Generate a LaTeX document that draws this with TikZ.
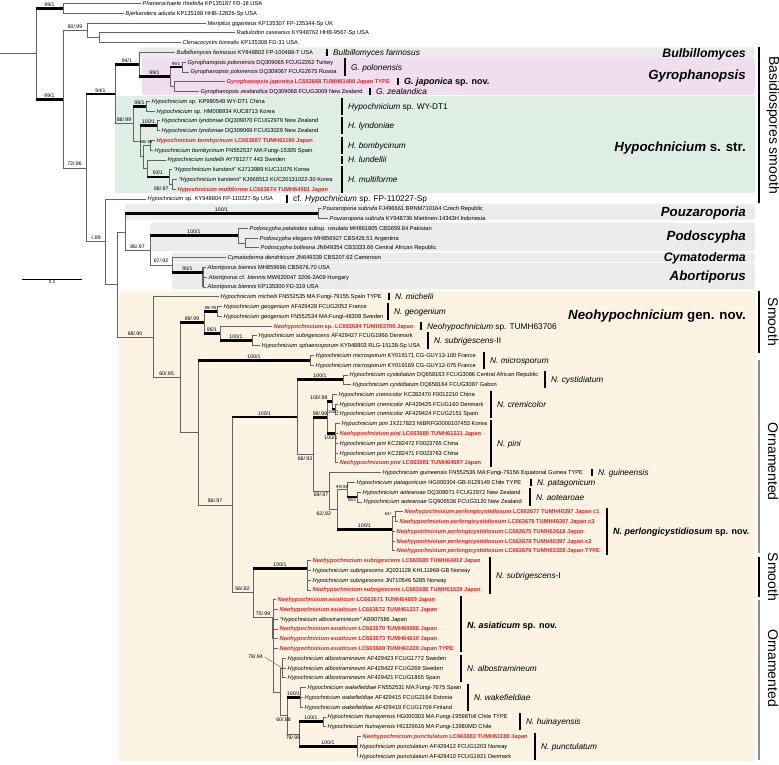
\documentclass[tikz,border=0pt]{standalone}
\usepackage{fontspec}
\setmainfont{Liberation Sans}
\usetikzlibrary{calc}
\definecolor{bandgrey}{RGB}{235,235,235}
\definecolor{bandpink}{RGB}{240,221,238}
\definecolor{bandgreen}{RGB}{222,238,229}
\definecolor{bandcream}{RGB}{253,243,227}
\definecolor{newred}{RGB}{232,30,37}
\definecolor{brgrey}{RGB}{100,100,100}
\definecolor{orngrey}{RGB}{140,140,140}

\begin{document}
\begin{tikzpicture}[
    x=1pt, y=-9.773pt,
    br/.style={draw=brgrey, line width=0.7pt},
    bb/.style={draw=black, line width=2.8pt},
    tx/.style={anchor=west, inner xsep=1.5pt, inner ysep=0pt,
               text height=4pt, text depth=0pt, font=\fontsize{5.7}{6}\selectfont},
    newseq/.style={tx, text=newred, font=\fontsize{5.7}{6}\selectfont\bfseries},
    supp/.style={inner sep=1.8pt, font=\fontsize{5.2}{5.5}\selectfont},
    suppsm/.style={inner sep=1.2pt, font=\fontsize{4.2}{4.5}\selectfont},
    band/.style={rounded corners=2.5pt},
    sbar/.style={line width=2pt},
    slab/.style={anchor=west, inner sep=0pt, text height=6pt, text depth=0pt,
                 font=\fontsize{8.3}{9}\selectfont\itshape},
    sbold/.style={anchor=west, inner sep=0pt, text height=6.5pt, text depth=0pt,
                  font=\fontsize{9}{10}\selectfont\bfseries},
    clade/.style={anchor=east, inner sep=0pt, text height=9.5pt, text depth=0pt,
                  font=\fontsize{13.3}{14}\selectfont\bfseries\itshape},
    tbar/.style={line width=2.2pt},
    tlab/.style={rotate=-90, inner sep=0pt, font=\fontsize{14}{15}\selectfont}
]
\useasboundingbox (0,0.6419) rectangle (779,78.818);

\fill[bandgrey,band]  (138,5.5)   rectangle (755,6.47);
\fill[bandpink,band]  (142,6.52)  rectangle (755,10.38);
\fill[bandgreen,band] (115,10.48) rectangle (755,20.4);
\fill[bandgrey,band]  (125,21.5)  rectangle (755,23.15);
\fill[bandgrey,band]  (150,23.45) rectangle (755,26.35);
\fill[bandgrey,band]  (172,26.5)  rectangle (755,27.45);
\fill[bandgrey,band]  (172,27.55) rectangle (755,30.25);
\fill[bandcream,band] (119,30.45) rectangle (755,78.55);

\coordinate (rt)   at (0,6.14);
\coordinate (r0)   at (36,6.14);
\coordinate (nPB)  at (63,1.5);
\coordinate (nA)   at (63,10.79);
\coordinate (nM)   at (87,3.75);
\coordinate (nRC)  at (99,4.5);
\coordinate (nB)   at (86,17.82);
\coordinate (n115) at (115,10.27);
\coordinate (nBG)  at (139,7.25);
\coordinate (nGy)  at (170,8.5);
\coordinate (nGpo) at (182,7.5);
\coordinate (nGjz) at (174,9.5);
\coordinate (nH0)  at (133,13.30);
\coordinate (nWY)  at (146,11.5);
\coordinate (nH1)  at (140,15.09);
\coordinate (nLy)  at (157,13.5);
\coordinate (nH2)  at (143,16.69);
\coordinate (nBo)  at (150,15.5);
\coordinate (nH3)  at (147,17.875);
\coordinate (nKa)  at (169,18.75);
\coordinate (nKm)  at (172,19.5);
\coordinate (n105) at (105,25.375);
\coordinate (n117) at (117,29.75);
\coordinate (n125) at (125,24.375);
\coordinate (nPz)  at (318,22.5);
\coordinate (n150) at (150,26.25);
\coordinate (nPd)  at (238,24.75);
\coordinate (nPe)  at (245,25.5);
\coordinate (n172) at (172,27.75);
\coordinate (nAb)  at (203,28.5);
\coordinate (n153) at (153,35.13);
\coordinate (n180) at (180,39.27);
\coordinate (n204) at (204,33.625);
\coordinate (nGe)  at (217,32.5);
\coordinate (n220) at (220,34.75);
\coordinate (nSu2) at (252,35.5);
\coordinate (n198) at (198,44.9);
\coordinate (nMi)  at (310,37.5);
\coordinate (n232) at (232,52.31);
\coordinate (n297) at (297,43.32);
\coordinate (nCy)  at (343,39.5);
\coordinate (n313) at (313,47.13);
\coordinate (n327) at (327,43.375);
\coordinate (nCr)  at (332,41.75);
\coordinate (nCr2) at (335,42.5);
\coordinate (nPi)  at (335,45);
\coordinate (n329) at (329,50.89);
\coordinate (n337) at (337,52.78);
\coordinate (nQ)   at (347,50.75);
\coordinate (nAo)  at (357,51.5);
\coordinate (nPl)  at (392,54.8);
\coordinate (nPl2) at (395,53.5);
\coordinate (n253) at (253,61.3);
\coordinate (nSu1) at (307,58.8);
\coordinate (n273) at (273,63.8);
\coordinate (nS)   at (280,71.44);
\coordinate (nAl)  at (282,69);
\coordinate (nT)   at (287,73.875);
\coordinate (nWa)  at (300,72);
\coordinate (nU)   at (299,75.75);
\coordinate (nHu)  at (323,74.5);
\coordinate (nPu)  at (357,77);

\draw[br] (rt) -- (r0);
\foreach \pa/\ch in {r0/nPB, r0/nA, nA/nM, nA/nB, nM/nRC, nB/n115, nB/n105,
    n115/nBG, n115/nH0, nBG/nGy, nGy/nGpo, nGy/nGjz, nH0/nWY, nH0/nH1,
    nH1/nLy, nH1/nH2, nH2/nBo, nH2/nH3, nH3/nKa, nKa/nKm, n105/n117,
    n117/n125, n117/n153, n125/nPz, n125/n150, n150/nPd, n150/n172,
    nPd/nPe, n172/nAb, n153/n180, n180/n204, n180/n198, n204/nGe,
    n204/n220, n220/nSu2, n198/nMi, n198/n232, n232/n297, n232/n253,
    n297/nCy, n297/n313, n313/n327, n313/n329, n327/nCr, n327/nPi,
    nCr/nCr2, n329/n337, n337/nQ, n337/nPl, nQ/nAo, nPl/nPl2, n253/nSu1,
    n253/n273, n273/nS, nS/nAl, nS/nT, nT/nWa, nT/nU, nU/nHu, nU/nPu}
  \draw[br] (\pa) |- (\ch);

\foreach \i/\x/\pa/\sty/\gn/\ac in {
    1/141/nPB/tx/Phanerochaete rhodella/KP135187 FD-18 USA,
    2/124/nPB/tx/Bjerkandera adusta/KP135198 HHB-12826-Sp USA,
    3/206/nM/tx/Meripilus giganteus/KP135307 FP-135344-Sp UK,
    4/235/nRC/tx/Radulodon casearius/KY948762 HHB-9567-Sp USA,
    5/181/nRC/tx/Climacocystis borealis/KP135308 FD-31 USA,
    6/175/nBG/tx/Bulbillomyces farinosus/KY948802 FP-100488-T USA,
    7/186/nGpo/tx/Gyrophanopsis polonensis/DQ309065 FCUG2262 Turkey,
    8/189/nGpo/tx/Gyrophanopsis polonensis/DQ309067 FCUG2675 Russia,
    9/225/nGjz/newseq/Gyrophanopsis japonica/LC663668 TUMH61400 Japan TYPE,
    10/199/nGjz/tx/Gyrophanopsis zealandica/DQ309068 FCUG3009 New Zealand,
    11/150/nWY/tx/Hypochnicium/sp. KP980549 WY-DT1 China,
    12/155/nWY/tx/Hypochnicium/sp. HM008934 KUC8713 Korea,
    13/160/nLy/tx/Hypochnicium lyndoniae/DQ309070 FCUG2979 New Zealand,
    14/160/nLy/tx/Hypochnicium lyndoniae/DQ309069 FCUG3029 New Zealand,
    15/155/nBo/newseq/Hypochnicium bombycinum/LC663687 TUMH61180 Japan,
    16/153/nBo/tx/Hypochnicium bombycinum/FN552537 MA:Fungi-15305 Spain,
    17/166/nH3/tx/Hypochnicium lundellii/AY781277 443 Sweden,
    18/172/nKa/tx/“Hypochnicium karstenii”/KJ713989 KUC11076 Korea,
    19/177/nKm/tx/“Hypochnicium karstenii”/KJ668512 KUC20131022-30 Korea,
    20/176/nKm/newseq/Hypochnicium multiforme/LC663674 TUMH64581 Japan,
    21/146/n105/tx/Hypochnicium/sp. KY948804 FP-110227-Sp USA,
    22/321/nPz/tx/Pouzaroporia subrufa/FJ496661 BRNM710164 Czech Republic,
    23/328/nPz/tx/Pouzaroporia subrufa/KY948736 Miettinen-14343H Indonesia,
    24/248/nPd/tx/Podoscypha petalodes/{subsp. \textit{rosulata} MH861805 CBS659.84 Pakistan},
    25/258/nPe/tx/Podoscypha elegans/MH856927 CBS426.51 Argentina,
    26/259/nPe/tx/Podoscypha bolleana/JN649354 CBS333.66 Central African Republic,
    27/226/n172/tx/Cymatoderma dendriticum/JN649339 CBS207.62 Cameroon,
    28/206/nAb/tx/Abortiporus biennis/MH859696 CBS676.70 USA,
    29/207/nAb/tx/Abortiporus/{cf. \textit{biennis} MW620047 3206-2A09 Hungary},
    30/206/nAb/tx/Abortiporus biennis/KP135300 FD-319 USA,
    31/219/n153/tx/Hypochnicium michelii/FN552535 MA:Fungi-79155 Spain TYPE,
    32/222/nGe/tx/Hypochnicium geogenium/AF429428 FCUG2052 France,
    33/222/nGe/tx/Hypochnicium geogenium/FN552534 MA:Fungi-48308 Sweden,
    34/272/n220/newseq/Neohypochnicium/sp. LC663684 TUMH63706 Japan,
    35/257/nSu2/tx/Hypochnicium subrigescens/AF429427 FCUG1966 Denmark,
    36/260/nSu2/tx/Hypochnicium sphaerosporum/KY948803 RLG-15138-Sp USA,
    37/314/nMi/tx/Hypochnicium microsporum/KY019171 CG-GUY13-100 France,
    38/314/nMi/tx/Hypochnicium microsporum/KY019169 CG-GUY12-075 France,
    39/348/nCy/tx/Hypochnicium cystidiatum/DQ658163 FCUG3086 Central African Republic,
    40/351/nCy/tx/Hypochnicium cystidiatum/DQ658164 FCUG3087 Gabon,
    41/337/nCr/tx/Hypochnicium cremicolor/KC282470 F0012210 China,
    42/338/nCr2/tx/Hypochnicium cremicolor/AF429425 FCUG160 Denmark,
    43/338/nCr2/tx/Hypochnicium cremicolor/AF429424 FCUG2151 Spain,
    44/340/nPi/tx/Hypochnicium pini/JX217823 NIBRFG0000107453 Korea,
    45/338/nPi/newseq/Neohypochnicium pini/LC663680 TUMH61221 Japan,
    46/338/nPi/tx/Hypochnicium pini/KC282472 F0023765 China,
    47/338/nPi/tx/Hypochnicium pini/KC282471 F0023763 China,
    48/338/nPi/newseq/Neohypochnicium pini/LC663681 TUMH64587 Japan,
    49/381/n329/tx/Hypochnicium guineensis/FN552536 MA:Fungi-79156 Equatorial Guinea TYPE,
    50/355/nQ/tx/Hypochnicium patagonicum/HG000304-GB-0129149 Chile TYPE,
    51/361/nAo/tx/Hypochnicium aotearoae/DQ309071 FCUG2972 New Zealand,
    52/362/nAo/tx/Hypochnicium aotearoae/GQ906536 FCUG3120 New Zealand,
    53/403/nPl2/newseq/Neohypochnicium perlongicystidiosum/LC663677 TUMH40397 Japan c1,
    54/398/nPl2/newseq/Neohypochnicium perlongicystidiosum/LC663679 TUMH40397 Japan c3,
    55/395/nPl/newseq/Neohypochnicium perlongicystidiosum/LC663675 TUMH63618 Japan,
    56/395/nPl/newseq/Neohypochnicium perlongicystidiosum/LC663678 TUMH40397 Japan c2,
    57/395/nPl/newseq/Neohypochnicium perlongicystidiosum/LC663676 TUMH63328 Japan TYPE,
    58/311/nSu1/newseq/Neohypochnicium subrigescens/LC663685 TUMH64812 Japan,
    59/311/nSu1/tx/Hypochnicium subrigescens/JQ031128 KHL11968-GB Norway,
    60/311/nSu1/tx/Hypochnicium subrigescens/JN710546 5285 Norway,
    61/311/nSu1/newseq/Neohypochnicium subrigescens/LC663686 TUMH61539 Japan,
    62/276/n273/newseq/Neohypochnicium asiaticum/LC663671 TUMH64609 Japan,
    63/278/n273/newseq/Neohypochnicium asiaticum/LC663672 TUMH61227 Japan,
    64/278/n273/tx/“Hypochnicium albostramineum”/AB907586 Japan,
    65/278/n273/newseq/Neohypochnicium asiaticum/LC663670 TUMH60568 Japan,
    66/278/n273/newseq/Neohypochnicium asiaticum/LC663673 TUMH64610 Japan,
    67/278/n273/newseq/Neohypochnicium asiaticum/LC663669 TUMH61220 Japan TYPE,
    68/286/nAl/tx/Hypochnicium albostramineum/AF429423 FCUG1772 Sweden,
    69/286/nAl/tx/Hypochnicium albostramineum/AF429422 FCUG269 Sweden,
    70/286/nAl/tx/Hypochnicium albostramineum/AF429421 FCUG1865 Spain,
    71/306/nWa/tx/Hypochnicium wakefieldiae/FN552531 MA:Fungi-7675 Spain,
    72/303/nWa/tx/Hypochnicium wakefieldiae/AF429415 FCUG2194 Estonia,
    73/303/nWa/tx/Hypochnicium wakefieldiae/AF429419 FCUG1709 Finland,
    74/326/nHu/tx/Hypochnicium huinayensis/HG000303 MA:Fungi-19598Toll Chile TYPE,
    75/326/nHu/tx/Hypochnicium huinayensis/HG326616 MA:Fungi-13980MD Chile,
    76/361/nPu/newseq/Neohypochnicium punctulatum/LC663682 TUMH61188 Japan,
    77/358/nPu/tx/Hypochnicium punctulatum/AF429412 FCUG1203 Norway,
    78/358/nPu/tx/Hypochnicium punctulatum/AF429410 FCUG1921 Denmark}
  {\node[\sty] (l\i) at (\x,\i) {\textit{\gn} \ac};
   \draw[br] (\pa) |- (l\i.west);}

\draw[brgrey, line width=1.5pt] (nAb |- l28.west) -- (nAb |- l30.west);
\draw[brgrey, line width=1.6pt] (n273) -- (n273 |- l66.west);

\foreach \pa/\ch in {r0/nPB, r0/nA, nB/n115, n115/nBG, nBG/nGy, nGy/nGpo,
    nH0/nWY, nH1/nLy, nH3/nKa, n125/nPz, n150/nPd, n172/nAb, n180/n204,
    n204/nGe, n204/n220, n220/nSu2, n198/nMi, n232/n297, n297/nCy,
    n313/n327, n327/nCr, nCr/nCr2, n327/nPi, nQ/nAo, n337/nPl, n253/nSu1,
    nT/nWa, nU/nHu, nU/nPu}
  \draw[bb] (\pa |- \ch) -- (\ch);

\foreach \pa/\ch/\lb/\ps/\sy in {
    r0/nPB/{99/1}/above/supp, r0/nA/{99/1}/above/supp,
    nA/nM/{80/.99}/above/supp, nA/nB/{72/.96}/above/supp,
    nB/n115/{94/1}/above/supp, n115/nBG/{94/1}/above/supp,
    nBG/nGy/{99/1}/above/supp, nGy/nGpo/{99/1}/above/suppsm,
    n115/nH0/{88/.99}/above/supp, nH0/nWY/{98/1}/above/supp,
    nH1/nLy/{100/1}/above/supp, nH2/nBo/{88/.99}/above/suppsm,
    nH3/nKa/{93/1}/above/supp, nKa/nKm/{88/.97}/below left/supp,
    nB/n105/{-/.89}/above/supp, n125/nPz/{100/1}/above/supp,
    n125/n150/{86/.97}/above/supp, n150/nPd/{100/1}/above/supp,
    n150/n172/{67/.92}/above/supp, n172/nAb/{95/1}/above/supp,
    n117/n153/{68/.90}/above/supp, n153/n180/{60/.95}/above/supp,
    n180/n204/{89/.99}/above/supp, n204/nGe/{99/.99}/above/suppsm,
    n204/n220/{96/1}/above/supp, n220/nSu2/{100/1}/above/supp,
    n198/nMi/{100/1}/above/supp, n198/n232/{86/.97}/above/supp,
    n232/n297/{100/1}/above/supp, n297/nCy/{100/1}/above/supp,
    n297/n313/{68/.93}/below/supp, n313/n327/{99/.99}/above/supp,
    n327/nCr/{100/.99}/above left/supp, nCr/nCr2/{100/1}/below/suppsm,
    n327/nPi/{100/1}/below/supp, n313/n329/{69/.97}/below/supp,
    n329/n337/{62/.82}/below left/supp, n337/nQ/{99/.98}/above/suppsm,
    nQ/nAo/{98/1}/below/suppsm, n337/nPl/{100/1}/above/supp,
    nPl/nPl2/{63/-}/above left/suppsm, n232/n253/{56/.82}/above/supp,
    n253/nSu1/{100/1}/above/supp, n253/n273/{75/.99}/above/supp,
    nS/nT/{60/.98}/below/supp, nT/nWa/{100/1}/above/supp,
    nT/nU/{79/.99}/below/supp, nU/nHu/{100/1}/above/supp,
    nU/nPu/{100/1}/above/supp}
  \node[\sy,\ps] (s-\ch) at ($(\pa |- \ch)!.5!(\ch)$) {\lb};

\node[supp] (s-nAl) at (255.5,67.87) {78/.94};
\draw[br, line width=0.4pt] (s-nAl.east) -- (nAl);

\coordinate (sc-a) at (22,29.19);
\coordinate (sc-b) at (82,29.19);
\draw[line width=0.6pt] (sc-a) -- (sc-b);
\node[below=1.5pt, inner sep=0pt, font=\fontsize{4.5}{5}\selectfont] (sc-lab)
  at ($(sc-a)!.5!(sc-b)$) {0.2};

\foreach \bx/\ra/\rb/\lb in {
    327/6/6/{Bulbillomyces farinosus},
    345/7/8/{G. polonensis},
    370/10/10/{G. zealandica},
    342/11/12/{Hypochnicium \upshape sp. WY-DT1},
    342/13/14/{H. lyndoniae},
    342/15/16/{H. bombycinum},
    342/17/17/{H. lundellii},
    342/18/20/{H. multiforme},
    287/21/21/{\upshape cf. \itshape Hypochnicium \upshape sp. FP-110227-Sp},
    389/31/31/{N. michelii},
    388/32/33/{N. geogenium},
    421/34/34/{Neohypochnicium \upshape sp. TUMH63706},
    428/35/36/{N. subrigescens\upshape -II},
    484/37/38/{N. microsporum},
    545/39/40/{N. cystidiatum},
    491/41/43/{N. cremicolor},
    491/44/48/{N. pini},
    592/49/49/{N. guineensis},
    531/50/50/{N. patagonicum},
    530/51/52/{N. aotearoae},
    490/58/61/{N. subrigescens\upshape -I},
    461/68/70/{N. albostramineum},
    468/71/73/{N. wakefieldiae},
    520/74/75/{N. huinayensis},
    535/76/78/{N. punctulatum}}
  {\draw[sbar] (\bx,\ra-0.38) -- (\bx,\rb+0.38);
   \node[slab] (sl\ra) at (\bx+6,{(\ra+\rb)/2}) {\lb};}

\draw[sbar] (398,8.62) -- (398,9.38);
\node[sbold] (sl9) at (404,9) {\textit{G. japonica} sp. nov.};
\draw[sbar] (607,52.62) -- (607,57.38);
\node[sbold] (sl53) at (613,55) {\textit{N. perlongicystidiosum} sp. nov.};
\draw[sbar] (461,61.62) -- (461,67.38);
\node[sbold] (sl62) at (467,64.6) {\textit{N. asiaticum} sp. nov.};

\node[clade, font=\fontsize{12.3}{13}\selectfont\bfseries\itshape] (cl-bulb) at (746,6) {Bulbillomyces};
\node[clade] (cl-gyro) at (746,8.32) {Gyrophanopsis};
\node[clade] (cl-hyp)  at (746,15.68) {Hypochnicium{\upshape{} s. str.}};
\node[clade] (cl-pouz) at (746,22.33) {Pouzaroporia};
\node[clade] (cl-podo) at (746,24.8) {Podoscypha};
\node[clade, font=\fontsize{12.3}{13}\selectfont\bfseries\itshape] (cl-cyma) at (746,26.94) {Cymatoderma};
\node[clade] (cl-abor) at (746,28.9) {Abortiporus};
\node[clade] (cl-neo)  at (746,32.87) {Neohypochnicium{\upshape{} gen. nov.}};

\draw[tbar] (759,5.45) -- (759,21.42);
\node[tlab] (tr-basi) at (773,13.43) {Basidiospores smooth};
\draw[tbar] (759,30.42) -- (759,36.76);
\node[tlab] (tr-sm1) at (773,33.6) {Smooth};
\draw[tbar, orngrey] (759,37.48) -- (759,57.23);
\node[tlab] (tr-or1) at (773,47.9) {Ornamented};
\draw[tbar] (759,57.64) -- (759,61.73);
\node[tlab] (tr-sm2) at (773,59.69) {Smooth};
\draw[tbar, orngrey] (759,62.0) -- (759,78.4);
\node[tlab] (tr-or2) at (773,69.0) {Ornamented};
\end{tikzpicture}
\end{document}
